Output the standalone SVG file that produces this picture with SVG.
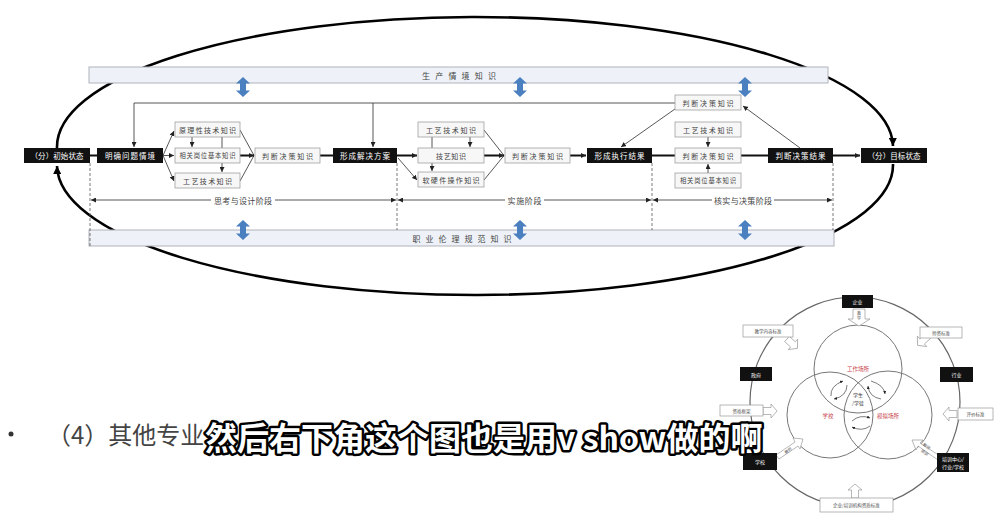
<svg xmlns="http://www.w3.org/2000/svg" width="1003" height="518" viewBox="0 0 1003 518">
<style>
text{font-family:"Noto Sans CJK SC","Noto Sans",sans-serif}
.blk{fill:#111}
.bt{fill:#fff;font-size:7.5px;text-anchor:middle;dominant-baseline:central}
.wb{fill:#f7f7f7;stroke:#a0a0a0;stroke-width:0.8}
.wt{fill:#444;font-size:7px;text-anchor:middle;dominant-baseline:central}
.bar{fill:#eef2f8;stroke:#b0b4ba;stroke-width:1}
.bart{fill:#444;font-size:8px;text-anchor:middle;dominant-baseline:central}
.thin{stroke:#444;stroke-width:0.9;fill:none}
.thick{stroke:#111;stroke-width:2;fill:none}
.dash{stroke:#555;stroke-width:0.8;stroke-dasharray:3 2;fill:none}
.ell{stroke:#000;stroke-width:2.6;fill:none}
.ph{fill:#444;font-size:8px;text-anchor:middle;dominant-baseline:central}
.oc{fill:none;stroke:#666;stroke-width:1.2}
.ic{fill:none;stroke:#777;stroke-width:1}
.sb{fill:#111}
.st{fill:#fff;font-size:5px;text-anchor:middle;dominant-baseline:central}
.sw{fill:#fff;stroke:#999;stroke-width:0.7}
.swt{fill:#555;font-size:4.5px;text-anchor:middle;dominant-baseline:central}
.red{fill:#c8444e;font-size:5.5px;text-anchor:middle;dominant-baseline:central}
.ha{fill:#fff;stroke:#999;stroke-width:0.7}
.ca{fill:none;stroke:#444;stroke-width:0.7}
.sub{font-size:32px;font-weight:bold;fill:#fff;stroke:#000;stroke-width:5;paint-order:stroke;stroke-linejoin:round}
</style>
<defs>
<marker id="as" viewBox="0 0 10 10" refX="10" refY="5" markerWidth="5" markerHeight="5" markerUnits="userSpaceOnUse" orient="auto-start-reverse"><path d="M0,0 L10,5 L0,10 z" fill="#222"/></marker>
<marker id="al" viewBox="0 0 10 10" refX="10" refY="5" markerWidth="9" markerHeight="8" markerUnits="userSpaceOnUse" orient="auto"><path d="M0,0 L10,5 L0,10 z" fill="#000"/></marker>
<marker id="ac" viewBox="0 0 10 10" refX="10" refY="5" markerWidth="3" markerHeight="3" markerUnits="userSpaceOnUse" orient="auto"><path d="M0,0 L10,5 L0,10 z" fill="#222"/></marker>
<polygon id="blue" points="0,-10 7,-3.5 3,-3.5 3,3.5 7,3.5 0,10 -7,3.5 -3,3.5 -3,-3.5 -7,-3.5" fill="#4a80c0"/>
<path id="hollow" d="M0,-3.5 H8 V-7 L14,0 L8,7 V3.5 H0 Z"/>
</defs>
<rect width="1003" height="518" fill="#fff"/>

<!-- big ellipse loop -->
<g id="loop">
<path class="ell" d="M 57 148 A 418 130 0 0 1 893 146" marker-end="url(#al)"/>
<path class="ell" d="M 893 164 A 418 130 0 0 1 57 166" marker-end="url(#al)"/>
</g>

<!-- knowledge bars -->
<g id="bar-top"><rect class="bar" x="89" y="67" width="739" height="16"/><text class="bart" x="459" y="75" textLength="74">生 产 情 境 知 识</text></g>
<g id="bar-bottom"><rect class="bar" x="89" y="230" width="745" height="16"/><text class="bart" x="462" y="238" textLength="99">职 业 伦 理 规 范 知 识</text></g>
<g id="blue-arrows">
<use href="#blue" x="243" y="87"/><use href="#blue" x="520" y="87"/><use href="#blue" x="745" y="87"/>
<use href="#blue" x="243" y="230"/><use href="#blue" x="520" y="230"/><use href="#blue" x="745" y="230"/>
</g>

<!-- connectors -->
<g id="connectors">
<polyline class="thin" points="675,103 134,103 134,147" marker-end="url(#as)"/>
<line class="thin" x1="373" y1="103" x2="373" y2="147" marker-end="url(#as)"/>
<line class="thin" x1="675" y1="109" x2="621" y2="147" marker-end="url(#as)"/>
<line class="thin" x1="800" y1="148" x2="743" y2="106" marker-end="url(#as)"/>
<line class="thick" x1="90" y1="155.5" x2="97" y2="155.5"/>
<line class="thin" x1="163" y1="155.5" x2="174" y2="155.5" marker-end="url(#as)"/>
<line class="thin" x1="163" y1="155.5" x2="174" y2="131" marker-end="url(#as)"/>
<line class="thin" x1="163" y1="155.5" x2="174" y2="181" marker-end="url(#as)"/>
<line class="thin" x1="192" y1="137" x2="192" y2="147" marker-end="url(#as)"/>
<line class="thin" x1="222" y1="137" x2="222" y2="148"/>
<line class="thin" x1="222" y1="163" x2="222" y2="172" marker-end="url(#as)"/>
<line class="thin" x1="240" y1="130" x2="254" y2="155.5"/>
<line class="thin" x1="240" y1="181" x2="254" y2="155.5"/>
<line class="thick" x1="240" y1="155.5" x2="254" y2="155.5" marker-end="url(#as)"/>
<line class="thick" x1="320" y1="155.5" x2="333" y2="155.5"/>
<line class="thick" x1="397" y1="155.5" x2="417" y2="155.5" marker-end="url(#as)"/>
<line class="thin" x1="398" y1="158" x2="417" y2="180" marker-end="url(#as)"/>
<line class="thin" x1="432" y1="137" x2="432" y2="148"/>
<line class="thin" x1="470" y1="137" x2="470" y2="147" marker-end="url(#as)"/>
<line class="thin" x1="432" y1="163" x2="432" y2="171" marker-end="url(#as)"/>
<line class="thin" x1="484" y1="130" x2="504" y2="155.5"/>
<line class="thin" x1="484" y1="180" x2="504" y2="155.5"/>
<line class="thick" x1="484" y1="155.5" x2="504" y2="155.5" marker-end="url(#as)"/>
<line class="thick" x1="570" y1="155.5" x2="586" y2="155.5" marker-end="url(#as)"/>
<line class="thick" x1="652" y1="155.5" x2="675" y2="155.5"/>
<line class="thin" x1="708" y1="137" x2="708" y2="147" marker-end="url(#as)"/>
<line class="thin" x1="708" y1="173" x2="708" y2="164" marker-end="url(#as)"/>
<line class="thick" x1="741" y1="155.5" x2="768" y2="155.5"/>
<line class="thick" x1="833" y1="155.5" x2="860" y2="155.5" marker-end="url(#as)"/>
<line class="dash" x1="90" y1="163" x2="90" y2="246"/>
<line class="dash" x1="397" y1="163" x2="397" y2="230"/>
<line class="dash" x1="652" y1="163" x2="652" y2="230"/>
<line class="dash" x1="833" y1="163" x2="833" y2="230"/>
<line class="thin" x1="91" y1="200" x2="211" y2="200" marker-start="url(#as)"/>
<line class="thin" x1="275" y1="200" x2="396" y2="200" marker-end="url(#as)"/>
<line class="thin" x1="398" y1="200" x2="505" y2="200" marker-start="url(#as)"/>
<line class="thin" x1="544" y1="200" x2="651" y2="200" marker-end="url(#as)"/>
<line class="thin" x1="653" y1="200" x2="712" y2="200" marker-start="url(#as)"/>
<line class="thin" x1="774" y1="200" x2="832" y2="200" marker-end="url(#as)"/>
</g>
<g id="phases">
<text class="ph" x="243" y="200" textLength="58">思考与设计阶段</text>
<text class="ph" x="524.5" y="200" textLength="34">实施阶段</text>
<text class="ph" x="743" y="200" textLength="58">核实与决策阶段</text>
</g>

<!-- nodes -->
<g id="n-init"><rect class="blk" x="24" y="148" width="66" height="15"/><text class="bt" x="57" y="155.5" textLength="53">（分）初始状态</text></g>
<g id="n-clarify"><rect class="blk" x="97" y="148" width="66" height="15"/><text class="bt" x="130" y="155.5" textLength="50">明确问题情境</text></g>
<g id="k1a"><rect class="wb" x="175" y="122" width="65" height="15"/><text class="wt" x="207.5" y="129.5" textLength="57">原理性技术知识</text></g>
<g id="k1b"><rect class="wb" x="175" y="148" width="65" height="15"/><text class="wt" x="207.5" y="155.5" textLength="56" style="font-size:6.3px">相关岗位基本知识</text></g>
<g id="k1c"><rect class="wb" x="175" y="173" width="65" height="15"/><text class="wt" x="207.5" y="180.5" textLength="49">工艺技术知识</text></g>
<g id="d1"><rect class="wb" x="255" y="148" width="65" height="15"/><text class="wt" x="287.5" y="155.5" textLength="51">判断决策知识</text></g>
<g id="n-plan"><rect class="blk" x="333" y="148" width="64" height="15"/><text class="bt" x="365" y="155.5" textLength="50">形成解决方案</text></g>
<g id="k2a"><rect class="wb" x="418" y="122" width="66" height="15"/><text class="wt" x="451" y="129.5" textLength="50">工艺技术知识</text></g>
<g id="k2b"><rect class="wb" x="418" y="148" width="66" height="15"/><text class="wt" x="451" y="155.5" textLength="30">技艺知识</text></g>
<g id="k2c"><rect class="wb" x="418" y="172" width="66" height="15"/><text class="wt" x="451" y="179.5" textLength="57">软硬件操作知识</text></g>
<g id="d2"><rect class="wb" x="505" y="148" width="65" height="15"/><text class="wt" x="537.5" y="155.5" textLength="51">判断决策知识</text></g>
<g id="n-exec"><rect class="blk" x="587" y="148" width="65" height="15"/><text class="bt" x="619.5" y="155.5" textLength="50">形成执行结果</text></g>
<g id="d3top"><rect class="wb" x="675" y="95" width="66" height="15"/><text class="wt" x="708" y="102.5" textLength="51">判断决策知识</text></g>
<g id="k3a"><rect class="wb" x="675" y="122" width="66" height="15"/><text class="wt" x="708" y="129.5" textLength="50">工艺技术知识</text></g>
<g id="d3"><rect class="wb" x="675" y="148" width="66" height="15"/><text class="wt" x="708" y="155.5" textLength="51">判断决策知识</text></g>
<g id="k3b"><rect class="wb" x="675" y="173" width="66" height="15"/><text class="wt" x="708" y="180.5" textLength="56" style="font-size:6.3px">相关岗位基本知识</text></g>
<g id="n-judge"><rect class="blk" x="768" y="148" width="65" height="15"/><text class="bt" x="800.5" y="155.5" textLength="50">判断决策结果</text></g>
<g id="n-goal"><rect class="blk" x="861" y="148" width="66" height="15"/><text class="bt" x="894" y="155.5" textLength="53">（分）目标状态</text></g>

<!-- slide text -->
<g id="slide-text">
<circle cx="11" cy="434" r="2.5" fill="#333"/>
<text x="47" y="444" style="font-size:24px;fill:#444">（4）其他专业</text>
</g>

<!-- bottom-right circle diagram -->
<g id="circle-diagram">
<circle class="oc" cx="855" cy="402" r="105"/>
<circle class="ic" cx="858" cy="369" r="44"/>
<circle class="ic" cx="830" cy="415" r="43"/>
<circle class="ic" cx="888" cy="415" r="44"/>
<text class="red" x="858" y="369">工作场所</text>
<text class="red" x="828" y="416">学校</text>
<text class="red" x="888" y="416">模拟场所</text>
<text class="swt" x="858" y="394" style="font-size:5px;fill:#333">学生</text>
<text class="swt" x="858" y="402" style="font-size:5px;fill:#333">/学徒</text>
<path class="ca" d="M 831 396 Q 830 386 843 381" marker-end="url(#ac)"/>
<path class="ca" d="M 847 385 Q 847 396 834 399" marker-end="url(#ac)"/>
<path class="ca" d="M 871 381 Q 884 385 885 394" marker-end="url(#ac)"/>
<path class="ca" d="M 881 399 Q 869 397 868 386" marker-end="url(#ac)"/>
<path class="ca" d="M 852 421 Q 860 414 870 418" marker-end="url(#ac)"/>
<path class="ca" d="M 870 426 Q 862 432 852 427" marker-end="url(#ac)"/>
</g>
<g id="hollow-arrows">
<path class="ha" d="M853,309 H865 V319 H870 L859,326 L848,319 H853 Z"/>
<text class="swt" x="859" y="313" style="font-size:4px">教</text>
<text class="swt" x="859" y="318" style="font-size:4px">学</text>
<use href="#hollow" class="ha" transform="translate(787,339) rotate(42)"/>
<use href="#hollow" class="ha" transform="translate(928,336) rotate(138)"/>
<use href="#hollow" class="ha" transform="translate(763,411)"/>
<use href="#hollow" class="ha" transform="translate(957,414) rotate(180)"/>
<use href="#hollow" class="ha" transform="translate(855,498) rotate(-90)"/>
<path class="ha" d="M776,455 L795,442 L793,438 L803,439 L800,449 L798,446 L779,459 Z"/>
<text class="swt" x="788" y="450" transform="rotate(-34 788 450)" style="font-size:4px">教师</text>
<path class="ha" d="M938,460 L918,446 L916,450 L912,440 L923,440 L920,443 L940,456 Z"/>
<text class="swt" x="927" y="446" transform="rotate(35 927 446)" style="font-size:4px">教师</text>
<text class="swt" x="925" y="452" transform="rotate(35 925 452)" style="font-size:4px">培训</text>
</g>
<g id="bx-qiye"><rect class="sb" x="842" y="295" width="31" height="13"/><text class="st" x="857.5" y="301.5">企业</text></g>
<g id="bx-zhengfu"><rect class="sb" x="740" y="367" width="32" height="14"/><text class="st" x="756" y="374">政府</text></g>
<g id="bx-hangye"><rect class="sb" x="940" y="367" width="33" height="15"/><text class="st" x="956.5" y="374.5">行业</text></g>
<g id="bx-xuexiao"><rect class="sb" x="743" y="453" width="34" height="17"/><text class="st" x="760" y="461.5">学校</text></g>
<g id="bx-peixun"><rect class="sb" x="937" y="453" width="32" height="19"/><text class="st" x="953" y="458.5">培训中心/</text><text class="st" x="953" y="466.5">行业/学校</text></g>
<g id="bx-jiaoxue"><rect class="sw" x="743" y="325" width="50" height="12"/><text class="swt" x="768" y="331">教学内容标准</text></g>
<g id="bx-shizi"><rect class="sw" x="920" y="327" width="42" height="11"/><text class="swt" x="941" y="332.5">师资标准</text></g>
<g id="bx-zige"><rect class="sw" x="720" y="405" width="43" height="11"/><text class="swt" x="741.5" y="410.5">资格框架</text></g>
<g id="bx-pingjia"><rect class="sw" x="958" y="408" width="35" height="12"/><text class="swt" x="975.5" y="414">评价标准</text></g>
<g id="bx-zizhi"><rect class="sw" x="820" y="498" width="73" height="14"/><text class="swt" x="856.5" y="505">企业/培训机构资质标准</text></g>

<!-- subtitle -->
<text id="subtitle" class="sub" x="205" y="450">然后右下角这个图也是用v show做的啊</text>
</svg>
